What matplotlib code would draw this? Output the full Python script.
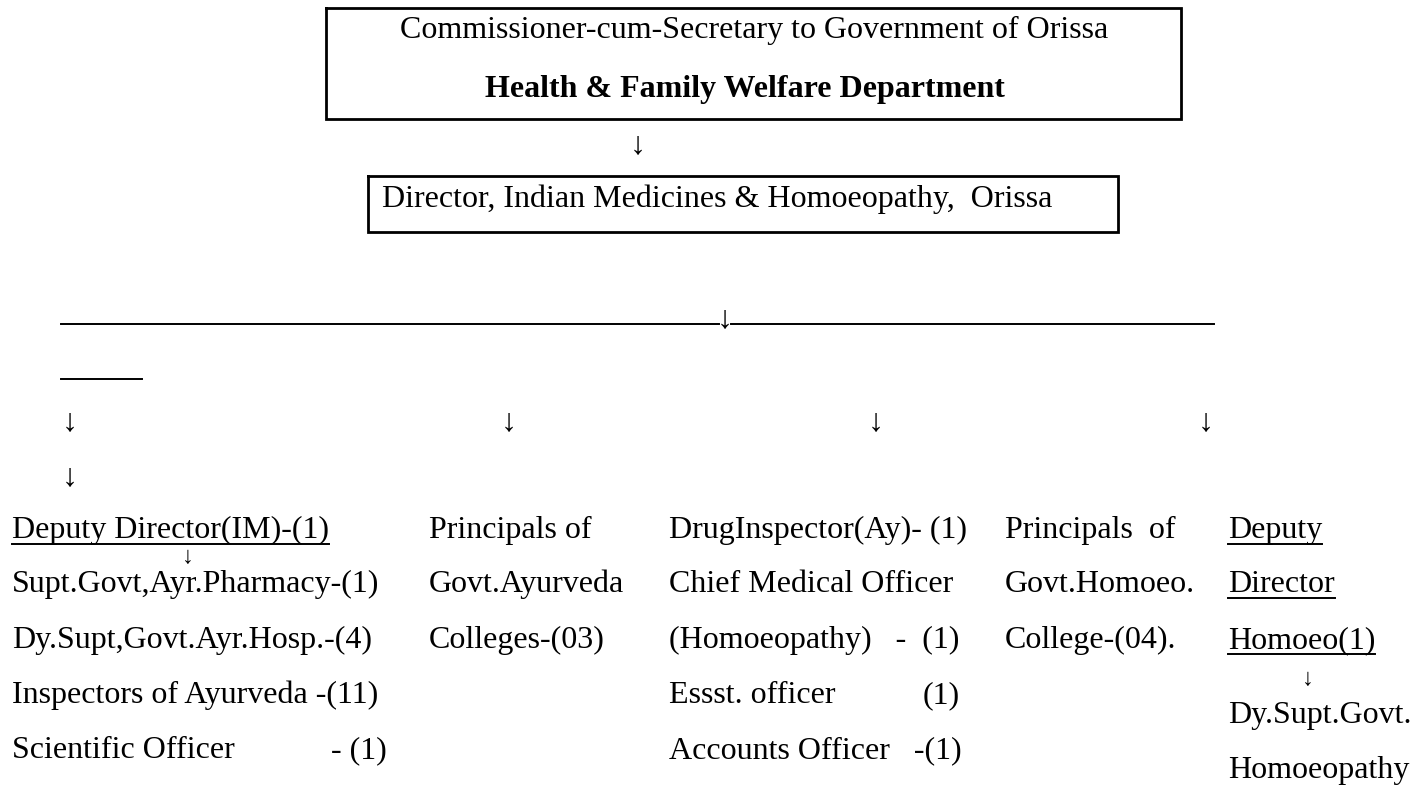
import matplotlib
matplotlib.use("Agg")
import matplotlib.pyplot as plt

plt.rcParams['font.family'] = ['Liberation Serif', 'DejaVu Serif']

# chart text
top_title = "Commissioner-cum-Secretary to Government of Orissa"
top_dept = "Health & Family Welfare Department"
director = "Director, Indian Medicines & Homoeopathy,  Orissa"

col1_head = "Deputy Director(IM)-(1)"
col1_items = ["Supt.Govt,Ayr.Pharmacy-(1)",
              "Dy.Supt,Govt.Ayr.Hosp.-(4)",
              "Inspectors of Ayurveda -(11)",
              "Scientific Officer"]
col1_counts = ["", "", "", "- (1)"]
col2_items = ["Principals of", "Govt.Ayurveda", "Colleges-(03)"]
col3_items = ["DrugInspector(Ay)- (1)", "Chief Medical Officer",
              "(Homoeopathy)   -  (1)", "Essst. officer", "Accounts Officer   -(1)"]
col3_counts = ["", "", "", "(1)", ""]
col4_items = ["Principals  of", "Govt.Homoeo.", "College-(04)."]
col5_head = ["Deputy", "Director", "Homoeo(1)"]
col5_items = ["Dy.Supt.Govt.", "Homoeopathy"]

FS = 23
W, H = 1428, 785
fig = plt.figure(figsize=(W / 100, H / 100), dpi=100)
ax = fig.add_axes([0, 0, 1, 1])
ax.set_xlim(0, W)
ax.set_ylim(H, 0)
ax.axis('off')


def txt(x, y, s, ha='left', **kw):
    # y is the baseline
    return ax.text(x, y, s, ha=ha, va='baseline', fontsize=FS, color='black', **kw)


def arrow(x, y, size=FS):
    return ax.text(x, y, "\u2193", ha='center', va='center', fontsize=size, color='black')


def box(x0, y0, x1, y1):
    ax.plot([x0, x1, x1, x0, x0], [y0, y0, y1, y1, y0], color='black', lw=2,
            solid_joinstyle='miter')


# top boxes
box(326, 8, 1181, 119)
txt(754, 38, top_title, ha='center')
txt(745, 97, top_dept, ha='center', fontweight='bold')
arrow(638, 146)
box(368, 176, 1118, 232)
txt(382, 207, director)

# branch line
ax.plot([61, 719], [324, 324], color='black', lw=1.4)
arrow(725, 320)
ax.plot([731, 1214], [324, 324], color='black', lw=1.4)
ax.plot([61, 142], [379, 379], color='black', lw=1.4)
for xa in [70, 509, 876, 1206]:
    arrow(xa, 423)
arrow(70, 478)

underlined = []
rows = [538, 592, 648, 703, 758]

# column 1
underlined.append(txt(12, rows[0], col1_head))
arrow(188, 558, size=17)
for i, s in enumerate(col1_items):
    txt(12, rows[i + 1], s)
    if col1_counts[i]:
        txt(387, rows[i + 1], col1_counts[i], ha='right')

# column 2
for i, s in enumerate(col2_items):
    txt(429, rows[i], s)

# column 3
for i, s in enumerate(col3_items):
    txt(669, rows[i], s)
    if col3_counts[i]:
        txt(960, rows[i], col3_counts[i], ha='right')

# column 4
for i, s in enumerate(col4_items):
    txt(1005, rows[i], s)

# column 5
for i, s in enumerate(col5_head):
    underlined.append(txt(1228, rows[i], s))
arrow(1308, 680, size=17)
for i, s in enumerate(col5_items):
    txt(1228, 723 + 55 * i, s)

# underline the headed entries
fig.canvas.draw()
r = fig.canvas.get_renderer()
inv = ax.transData.inverted()
for t in underlined:
    bb = t.get_window_extent(r)
    x0 = inv.transform([bb.x0, bb.y0])[0]
    x1 = inv.transform([bb.x1, bb.y0])[0]
    yb = t.get_position()[1]
    ax.plot([x0, x1], [yb + 6, yb + 6], color='black', lw=1.4)

fig.savefig("out.png", dpi=100, facecolor='white')
